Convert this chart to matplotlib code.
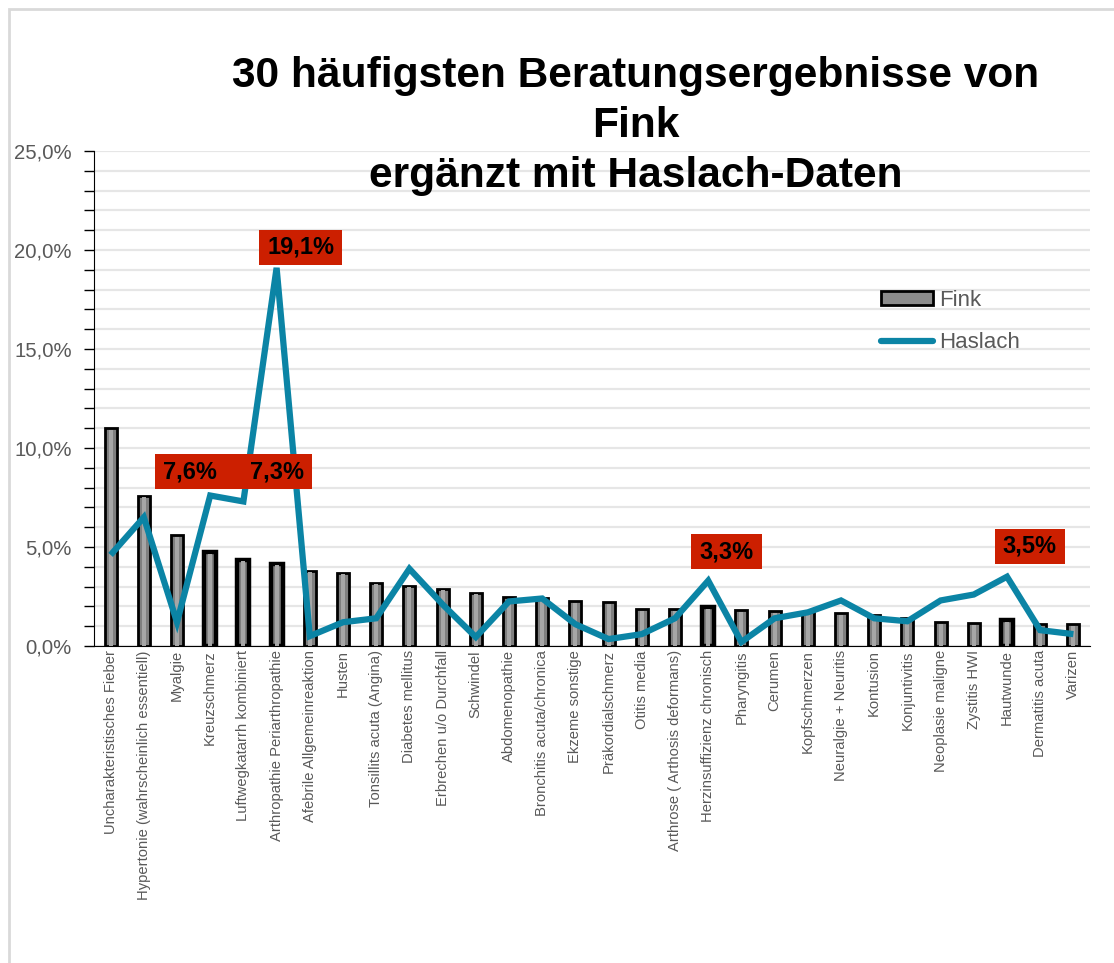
import matplotlib
matplotlib.use("Agg")
import matplotlib.pyplot as plt
from matplotlib.patches import Rectangle, Patch
from matplotlib.lines import Line2D
from matplotlib.ticker import FuncFormatter, MultipleLocator
import numpy as np

plt.rcParams['font.family'] = ['Liberation Sans', 'DejaVu Sans']

categories = [
    "Uncharakteristisches Fieber", "Hypertonie (wahrscheinlich essentiell)", "Myalgie",
    "Kreuzschmerz", "Luftwegkatarrh kombiniert", "Arthropathie Periarthropathie",
    "Afebrile Allgemeinreaktion", "Husten", "Tonsillits acuta (Angina)", "Diabetes mellitus",
    "Erbrechen u/o Durchfall", "Schwindel", "Abdomenopathie", "Bronchitis acuta/chronica",
    "Ekzeme sonstige", "Präkordialschmerz", "Otitis media", "Arthrose ( Arthosis deformans)",
    "Herzinsuffizienz chronisch", "Pharyngitis", "Cerumen", "Kopfschmerzen",
    "Neuralgie + Neuritis", "Kontusion", "Konjuntivitis", "Neoplasie maligne",
    "Zystitis HWI", "Hautwunde", "Dermatitis acuta", "Varizen",
]
fink = [11.0, 7.6, 5.6, 4.75, 4.35, 4.15, 3.8, 3.7, 3.2, 3.05,
        2.9, 2.7, 2.45, 2.4, 2.25, 2.2, 1.85, 1.85, 1.95, 1.8,
        1.75, 1.7, 1.65, 1.55, 1.4, 1.2, 1.15, 1.3, 1.1, 1.1]
haslach = [4.6, 6.5, 1.2, 7.6, 7.3, 19.1, 0.5, 1.2, 1.4, 3.9,
           2.1, 0.45, 2.25, 2.4, 1.1, 0.35, 0.6, 1.4, 3.3, 0.2,
           1.4, 1.7, 2.3, 1.4, 1.25, 2.3, 2.6, 3.5, 0.8, 0.6]
highlight_idx = [3, 4, 5, 18, 27]
label_idx = [3, 4, 5, 18, 27]
label_offsets = [(-0.62, 1.19), (1.0, 1.49), (0.72, 1.05), (0.55, 1.45), (0.68, 1.55)]
label_extra_right = [35, 0, 0, 0, 0]

W, H = 1114, 963
fig = plt.figure(figsize=(W / 100, H / 100), dpi=100)
fig.patches.append(Rectangle((9 / W, -0.1), 1.2, 1.1 - 9 / H,
                             transform=fig.transFigure, fill=False,
                             edgecolor='#d9d9d9', linewidth=2.0, zorder=0))

left, right, top, bottom = 94, 1090, 151, 646
ax = fig.add_axes([left / W, 1 - bottom / H, (right - left) / W, (bottom - top) / H])

x = np.arange(len(categories))
fv = np.array(fink) / 100
hv = np.array(haslach) / 100

ax.set_xlim(-0.5, len(categories) - 0.5)
ax.set_ylim(0, 0.25)

ax.yaxis.set_major_locator(MultipleLocator(0.05))
ax.yaxis.set_minor_locator(MultipleLocator(0.01))
ax.yaxis.set_major_formatter(FuncFormatter(lambda v, p: f"{v*100:.1f}%".replace('.', ',')))
ax.grid(True, which='both', axis='y', color='#e6e6e6', linewidth=1.6, zorder=0)
ax.set_axisbelow(True)

for s in ['top', 'right']:
    ax.spines[s].set_visible(False)
ax.spines['left'].set_color('black')
ax.spines['bottom'].set_color('black')
ax.tick_params(axis='y', which='major', length=7, width=1, color='black',
               labelsize=14.6, labelcolor='#595959', pad=9)
ax.tick_params(axis='y', which='minor', length=7, width=1, color='black')
ax.tick_params(axis='x', length=0, labelsize=10.6, labelcolor='#595959', pad=3)
ax.set_xticks(x)
ax.set_xticklabels(categories, rotation=90)

edge_w = [3.2 if i in highlight_idx else 2.0 for i in range(len(x))]
ax.bar(x, fv, width=0.36, color='#7f7f7f', edgecolor='black', linewidth=edge_w, zorder=2)
ax.bar(x, fv - 0.0008, width=0.12, color='#a6a6a6', edgecolor='none', zorder=3)

ax.plot(x, hv, color='#0b84a5', linewidth=4.5, solid_joinstyle='miter',
        solid_capstyle='butt', zorder=4)

label_texts = []
for i, (dx, dy) in zip(label_idx, label_offsets):
    t = ax.text(x[i] + dx, (haslach[i] + dy) / 100, f"{haslach[i]:.1f}%".replace('.', ','),
                ha='center', va='center', fontsize=17, fontweight='bold', color='black',
                zorder=7)
    label_texts.append(t)

fig.text(636 / W, 1 - 126 / H, "30 häufigsten Beratungsergebnisse von\nFink\nergänzt mit Haslach-Daten",
         ha='center', va='center', fontsize=30.6, fontweight='bold', color='black',
         linespacing=1.32)

handles = [Patch(facecolor='#8c8c8c', edgecolor='black', linewidth=2.0),
           Line2D([0], [0], color='#0b84a5', linewidth=4.5, solid_capstyle='round')]
leg = ax.legend(handles, ['Fink', 'Haslach'], loc='upper left',
                bbox_to_anchor=((872 - left) / (right - left), 1 - (281 - top) / (bottom - top)),
                frameon=False, fontsize=16, handlelength=2.35, handleheight=0.6,
                labelspacing=0.95, handletextpad=0.25, borderaxespad=0)
for t in leg.get_texts():
    t.set_color('#595959')

# red boxes behind the value labels (sized from the rendered text)
fig.canvas.draw()
renderer = fig.canvas.get_renderer()
for t, extra in zip(label_texts, label_extra_right):
    bb = t.get_window_extent(renderer)
    px, py = 8, 6
    rect = Rectangle((bb.x0 - px, bb.y0 - py), bb.width + 2 * px + extra, bb.height + 2 * py,
                     transform=None, facecolor='#cc1f00', edgecolor='none', zorder=6)
    ax.add_artist(rect)

fig.savefig('out.png', dpi=100)
